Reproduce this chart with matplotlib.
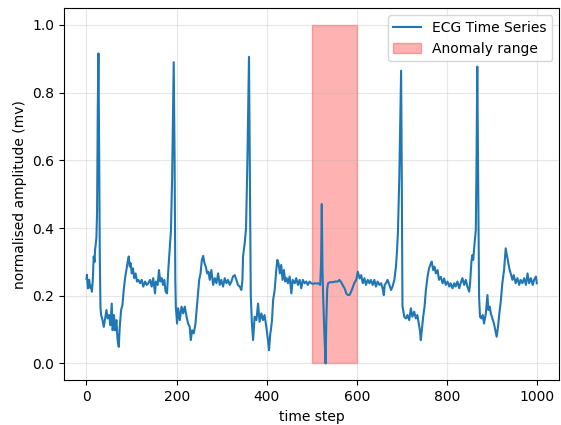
import matplotlib
matplotlib.use("Agg")
import matplotlib.pyplot as plt

# time steps and amplitudes
time_steps = [
    0, 1, 3, 5, 6, 8, 9, 11, 12, 14, 16, 18, 19, 20.7, 22, 23.5, 25, 26.5, 28, 29.5,
    31, 32.5, 35.5, 38.4, 41.4, 44.3, 47, 50.2, 53, 56, 58, 61, 63.5, 66.4, 69, 71.6,
    73.8, 76.8, 79.7, 82.6, 85.6, 88.5, 91.5, 93.7, 96, 98, 100.4, 103, 106, 109, 112,
    115, 118.8, 122.5, 126, 130, 133.5, 137, 141, 144.6, 148, 152, 154, 157.9, 160.8,
    163.8, 166.7, 169.7, 172.6, 175.6, 178.6, 181.5, 184.4, 187.4, 190, 193.5, 195.5,
    197, 198.2, 201, 203.4, 207, 210.8, 214.5, 218, 222, 225.5, 229, 231.4, 234.4, 238,
    241.8, 245.5, 250, 253, 256, 258.8, 261.8, 264.7, 267.7, 270.6, 273.5, 277, 281,
    284.6, 288.3, 292, 295.6, 299, 303, 306.7, 310.4, 314, 317.8, 321.5, 325, 329,
    332.6, 336, 340, 343.6, 346, 347.3, 351, 354, 357, 360.5, 362.5, 364.5, 367, 369.6,
    373, 377, 380.6, 384, 388, 391.6, 395, 399, 402.6, 405, 407.8, 409, 411.6, 414,
    417.5, 421, 423.4, 426, 429, 432, 435, 438, 441, 444, 447, 450.7, 454.5, 457.4, 462,
    465.4, 469, 473, 476.5, 480, 484, 487.6, 491, 495, 498.6, 503, 507, 511, 514, 518.6,
    520.5, 522, 523.5, 525, 528, 530.5, 532, 534, 536, 540, 546.5, 552, 557.6, 561, 565,
    569, 572.6, 576.3, 580, 584, 587, 590, 592.6, 595, 598.5, 602, 606, 609.4, 613,
    616.6, 620, 624, 627.7, 631, 635, 638.7, 642, 646, 650, 653.7, 657, 659.6, 661.6,
    664.5, 668, 672, 675.6, 679, 683, 686.6, 689, 691, 694, 698, 699.5, 701, 705, 708.7,
    712, 716, 719.7, 723, 727, 730.7, 734, 736.6, 739.6, 741.7, 744, 747, 750, 753,
    756.6, 760, 764, 766, 769, 772, 775, 779, 782, 786, 790, 793.5, 797, 801, 805, 808,
    812, 816, 819, 823, 827, 830, 834, 838, 841.5, 845, 849, 851, 854, 856, 858, 861,
    863.7, 865, 867, 869, 871, 873, 876, 879, 882, 886, 889.5, 891.7, 894.6, 897, 900.5,
    904, 907, 910, 913, 916, 919, 922.6, 926.4, 930, 932, 935, 938, 941, 945, 948, 952,
    956, 960, 963, 967, 971, 975, 978.5, 982, 986, 990, 993, 997, 999,
]
amplitude = [
    0.250, 0.262, 0.222, 0.240, 0.247, 0.225, 0.222, 0.230, 0.212, 0.247, 0.316, 0.300,
    0.335, 0.355, 0.370, 0.450, 0.750, 0.916, 0.650, 0.320, 0.165, 0.143, 0.128, 0.108,
    0.133, 0.158, 0.133, 0.143, 0.113, 0.177, 0.098, 0.143, 0.098, 0.128, 0.069, 0.049,
    0.108, 0.158, 0.172, 0.217, 0.252, 0.276, 0.301, 0.316, 0.286, 0.296, 0.266, 0.281,
    0.252, 0.266, 0.242, 0.247, 0.237, 0.247, 0.227, 0.242, 0.232, 0.237, 0.247, 0.227,
    0.252, 0.207, 0.242, 0.232, 0.276, 0.242, 0.252, 0.232, 0.247, 0.212, 0.207, 0.276,
    0.335, 0.394, 0.550, 0.890, 0.600, 0.250, 0.168, 0.118, 0.163, 0.128, 0.168, 0.148,
    0.168, 0.138, 0.118, 0.108, 0.069, 0.098, 0.089, 0.118, 0.177, 0.247, 0.266, 0.306,
    0.318, 0.296, 0.286, 0.266, 0.271, 0.247, 0.276, 0.232, 0.252, 0.237, 0.266, 0.232,
    0.247, 0.227, 0.252, 0.237, 0.247, 0.232, 0.242, 0.257, 0.261, 0.247, 0.232, 0.227,
    0.217, 0.247, 0.316, 0.355, 0.400, 0.600, 0.906, 0.550, 0.200, 0.118, 0.069, 0.138,
    0.128, 0.177, 0.123, 0.148, 0.128, 0.143, 0.108, 0.069, 0.039, 0.089, 0.098, 0.128,
    0.187, 0.217, 0.276, 0.306, 0.296, 0.266, 0.291, 0.247, 0.276, 0.242, 0.252, 0.237,
    0.257, 0.207, 0.247, 0.237, 0.252, 0.232, 0.247, 0.222, 0.247, 0.237, 0.242, 0.232,
    0.242, 0.237, 0.235, 0.237, 0.236, 0.237, 0.232, 0.300, 0.471, 0.280, 0.200, 0.080,
    0.000, 0.120, 0.220, 0.237, 0.240, 0.240, 0.242, 0.242, 0.247, 0.240, 0.230, 0.222,
    0.207, 0.202, 0.203, 0.212, 0.222, 0.232, 0.240, 0.247, 0.271, 0.251, 0.261, 0.237,
    0.252, 0.232, 0.247, 0.237, 0.247, 0.232, 0.247, 0.227, 0.242, 0.232, 0.237, 0.222,
    0.202, 0.232, 0.237, 0.247, 0.232, 0.217, 0.227, 0.247, 0.286, 0.335, 0.390, 0.550,
    0.865, 0.550, 0.170, 0.138, 0.133, 0.143, 0.128, 0.163, 0.138, 0.153, 0.133, 0.143,
    0.123, 0.099, 0.069, 0.099, 0.138, 0.168, 0.217, 0.256, 0.281, 0.296, 0.301, 0.276,
    0.286, 0.266, 0.276, 0.247, 0.256, 0.237, 0.251, 0.232, 0.242, 0.227, 0.237, 0.222,
    0.237, 0.227, 0.242, 0.222, 0.237, 0.252, 0.232, 0.247, 0.227, 0.212, 0.237, 0.301,
    0.320, 0.306, 0.355, 0.394, 0.550, 0.877, 0.550, 0.197, 0.138, 0.133, 0.143, 0.118,
    0.148, 0.202, 0.158, 0.168, 0.148, 0.133, 0.118, 0.098, 0.079, 0.108, 0.148, 0.182,
    0.237, 0.276, 0.340, 0.325, 0.301, 0.281, 0.266, 0.247, 0.261, 0.237, 0.252, 0.232,
    0.247, 0.237, 0.252, 0.232, 0.266, 0.237, 0.252, 0.232, 0.247, 0.257, 0.237,
]

anomaly_start = 500
anomaly_end = 600


def plot_ecg():
    fig = plt.figure(figsize=(5.61, 4.25), dpi=100)
    ax = fig.add_subplot(111)
    fig.subplots_adjust(left=0.114, right=0.997, bottom=0.105, top=0.981)

    ax.plot(time_steps, amplitude, label="ECG Time Series")
    ax.fill_between([anomaly_start, anomaly_end], 0, 1, color="red", alpha=0.3,
                    label="Anomaly range")

    ax.set_xlabel("time step")
    ax.set_ylabel("normalised amplitude (mv)")
    ax.set_xlim(-50, 1049)
    ax.set_ylim(-0.05, 1.05)
    ax.grid(alpha=0.3)
    ax.legend(loc="upper right")
    return fig


fig = plot_ecg()
fig.savefig("out.png", dpi=100)
